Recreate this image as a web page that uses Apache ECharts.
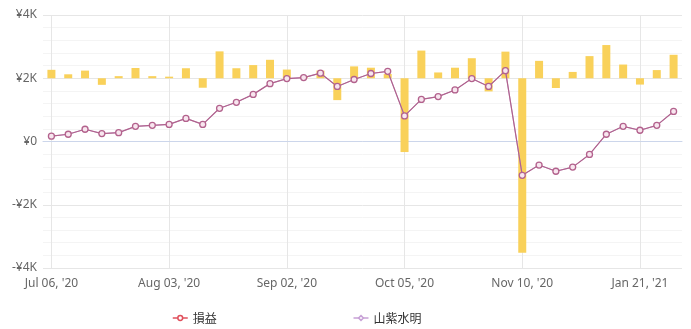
<!DOCTYPE html>
<html>
<head>
<meta charset="utf-8">
<script src="https://cdn.jsdelivr.net/npm/echarts@6/dist/echarts.min.js"></script>
<style>
  html, body { margin: 0; padding: 0; background: #fff; }
  #chart { width: 691px; height: 329px; }
</style>
</head>
<body>
<div id="chart"></div>
<script>
// Trade dates (one per closed period)
const dates = [
  "Jul 06, '20", "Jul 10, '20", "Jul 14, '20", "Jul 17, '20", "Jul 21, '20", "Jul 24, '20", "Jul 29, '20",
  "Aug 03, '20", "Aug 07, '20", "Aug 12, '20", "Aug 17, '20", "Aug 20, '20", "Aug 25, '20", "Aug 28, '20",
  "Sep 02, '20", "Sep 07, '20", "Sep 10, '20", "Sep 15, '20", "Sep 18, '20", "Sep 24, '20", "Sep 29, '20",
  "Oct 05, '20", "Oct 09, '20", "Oct 15, '20", "Oct 20, '20", "Oct 26, '20", "Oct 30, '20", "Nov 05, '20",
  "Nov 10, '20", "Nov 20, '20", "Dec 01, '20", "Dec 11, '20", "Dec 21, '20", "Dec 29, '20", "Jan 12, '21",
  "Jan 21, '21", "Jan 27, '21", "Feb 02, '21"
];

// Per-period profit / loss (yen)
const periodPnl = [
  160, 75, 145, -125, 40, 195, 40, 30, 190, -180, 510, 190, 250, 350,
  165, 30, 145, -415, 225, 200, 80, -1400, 525, 110, 200, 380, -250, 505,
  -3310, 330, -185, 120, 420, 630, 260, -120, 155, 445
];

// Cumulative profit / loss (yen)
const cumulativePnl = [
  167, 230, 387, 250, 280, 480, 510, 540, 730, 540, 1050, 1240, 1490, 1830,
  1990, 2020, 2160, 1740, 1960, 2150, 2220, 810, 1330, 1420, 1630, 1990, 1740, 2240,
  -1070, -745, -940, -810, -410, 230, 480, 355, 510, 950
];

// Strategy series (tracks the same account)
const strategyPnl = [
  167, 230, 387, 250, 280, 480, 510, 540, 730, 540, 1050, 1240, 1490, 1830,
  1990, 2020, 2160, 1740, 1960, 2150, 2220, 810, 1330, 1420, 1630, 1990, 1740, 2240,
  -1070, -745, -940, -810, -410, 230, 480, 355, 510, 950
];

const seriesNames = ['損益', '山紫水明'];

function yenK(v) {
  if (v === 0) return '¥0';
  const s = '¥' + (Math.abs(v) / 1000) + 'K';
  return v < 0 ? '-' + s : s;
}

const chart = echarts.init(document.getElementById('chart'), null, { renderer: 'canvas' });

const fontFam = "'Noto Sans', 'Noto Sans CJK JP', sans-serif";

chart.setOption({
  animation: false,
  backgroundColor: '#ffffff',
  textStyle: { fontFamily: fontFam },
  grid: { left: 43, right: 9, top: 15, bottom: 61, containLabel: false },
  legend: {
    data: [
      {
        name: seriesNames[0],
        itemStyle: { color: '#ffffff', borderColor: '#e0505c', borderWidth: 1.5 },
        lineStyle: { color: '#e0505c', width: 1.5 }
      },
      {
        name: seriesNames[1],
        itemStyle: { color: '#ffffff', borderColor: '#c7a1d6', borderWidth: 1.5 },
        lineStyle: { color: '#c7a1d6', width: 1.5 }
      }
    ],
    left: 167,
    top: 307,
    itemWidth: 15,
    itemHeight: 6,
    itemGap: 136,
    itemTextGap: 6,
    textStyle: { fontSize: 12, color: '#333', fontFamily: "'Noto Sans CJK JP', sans-serif" }
  },
  xAxis: {
    type: 'category',
    data: dates,
    boundaryGap: true,
    axisLine: { show: true, lineStyle: { color: '#ccd6eb', width: 1 } },
    axisTick: { show: false, alignWithLabel: true, interval: 6 },
    axisLabel: { interval: 6, color: '#666', fontSize: 12, margin: 10 },
    splitLine: { show: true, interval: 6, alignWithLabel: true, lineStyle: { color: '#e6e6e6', width: 1 } }
  },
  yAxis: [
    {
      type: 'value',
      min: -4000,
      max: 4000,
      interval: 2000,
      axisLine: { show: false },
      axisTick: { show: false },
      axisLabel: { formatter: yenK, color: '#666', fontSize: 12, margin: 6 },
      splitLine: { show: true, lineStyle: { color: '#e6e6e6', width: 1 } },
      minorTick: { show: false, splitNumber: 5 },
      minorSplitLine: { show: true, lineStyle: { color: '#f4f4f4', width: 1 } }
    },
    {
      type: 'value',
      min: -3600,
      max: 1200,
      interval: 1200,
      show: false,
      splitLine: { show: false }
    }
  ],
  series: [
    {
      name: 'period',
      type: 'bar',
      yAxisIndex: 1,
      data: periodPnl,
      barWidth: 8,
      itemStyle: { color: '#f9d15a' },
      z: 1
    },
    {
      name: seriesNames[1],
      type: 'line',
      data: strategyPnl,
      symbol: 'diamond',
      symbolSize: 5,
      color: '#c7a1d6',
      lineStyle: { color: '#c7a1d6', width: 1 },
      itemStyle: { color: '#ffffff', borderColor: '#c7a1d6', borderWidth: 1 },
      z: 3
    },
    {
      name: seriesNames[0],
      type: 'line',
      data: cumulativePnl,
      symbol: 'circle',
      symbolSize: 6,
      color: '#e0505c',
      lineStyle: { color: '#b0628c', width: 1.2 },
      itemStyle: { color: '#f8e6ef', borderColor: '#b3628d', borderWidth: 1.3 },
      z: 4
    }
  ]
});
</script>
</body>
</html>
